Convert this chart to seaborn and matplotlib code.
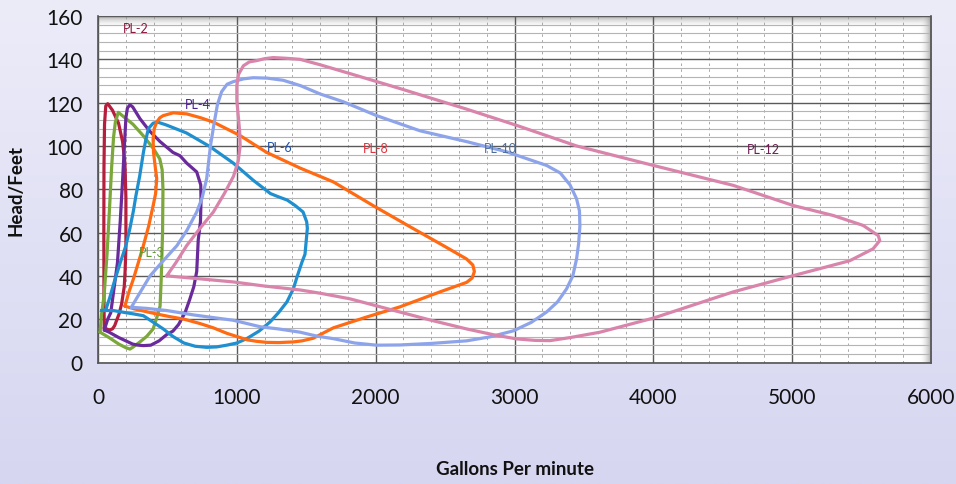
import numpy as np
import pandas as pd
import matplotlib
matplotlib.use("Agg")
import matplotlib.pyplot as plt
import seaborn as sns
from matplotlib.ticker import MultipleLocator
from matplotlib.colors import LinearSegmentedColormap

# Kennlinien (Gallonen pro Minute / Förderhöhe in Fuß)
pl2_gpm = [45, 43, 42, 43, 47, 56, 70, 104, 148, 177, 194, 201, 201, 195, 189, 170, 152, 120, 104, 80, 45]
pl2_ft = [16, 30, 60, 90, 110, 118.5, 119.5, 116.5, 110.5, 102, 92, 76, 53, 42, 35, 27, 22.5, 17, 15.5, 15, 16]

pl3_gpm = [15, 25, 44, 65, 82, 98, 112, 125, 146, 175, 252, 322, 397, 445, 462, 468, 465, 455, 447, 420, 397, 350, 302, 250, 230, 202, 150, 80, 15]
pl3_ft = [14, 22, 31, 50, 70, 90, 104, 111, 115.5, 114, 110, 105, 99, 94, 89, 80, 60, 38, 26, 20, 15.5, 12, 9.5, 7, 6.2, 6.8, 8.5, 11.5, 14]

pl4_gpm = [45, 70, 92, 115, 140, 160, 177, 190, 201, 212, 230, 250, 302, 370, 447, 540, 590, 640, 711, 740, 742, 738, 722, 711, 690, 660, 627, 580, 540, 495, 440, 380, 327, 290, 250, 150, 80, 45]
pl4_ft = [15, 20, 23, 34, 46, 65, 84, 100, 113, 117.5, 119, 118, 112.6, 107, 102, 97, 95.5, 92, 88, 82, 75, 65, 56.6, 42, 35, 29, 23, 17.5, 14.5, 12.9, 10, 8, 7.8, 8, 8.5, 11.5, 14, 15]

pl6_gpm = [25, 56, 85, 116, 160, 201, 230, 255, 273, 300, 327, 345, 363, 397, 430, 491, 637, 806, 976, 1121, 1242, 1300, 1363, 1420, 1477, 1503, 1508, 1491, 1470, 1436, 1407, 1361, 1300, 1239, 1160, 1071, 1000, 927, 855, 783, 700, 619, 540, 470, 400, 327, 250, 200, 110, 25]
pl6_ft = [24, 24.3, 30, 37, 46, 54, 62, 70, 77, 86, 97, 103, 108, 110.5, 111, 109.7, 106, 99.7, 92, 84, 78, 76.5, 75, 72.5, 69.5, 65, 62, 50, 46.5, 40, 34, 28, 23, 18.7, 14.5, 11, 9, 8, 7.2, 7, 7.5, 9, 12, 15.5, 18.5, 21.6, 22.5, 23, 24, 24]

pl8_gpm = [194, 220, 255, 290, 327, 365, 397, 415, 423, 411, 400, 397, 405, 423, 445, 470, 542, 639, 740, 831, 1023, 1215, 1455, 1695, 1983, 2247, 2487, 2655, 2700, 2711, 2695, 2655, 2463, 2175, 1935, 1695, 1550, 1470, 1407, 1300, 1215, 1140, 1073, 1000, 927, 831, 734, 620, 516, 430, 346, 260, 194]
pl8_ft = [26, 32, 38.6, 46, 54, 63, 72.4, 78, 85, 91, 97, 103, 108, 111, 113, 114, 115.3, 114.8, 113, 111, 104.8, 97, 89.8, 83.4, 72.4, 62.7, 54, 47.8, 45, 42, 39, 37, 32.6, 25.7, 21, 16, 11.2, 10, 9.5, 9.2, 9.3, 9.8, 10.5, 12, 13.5, 16, 18, 20, 21.2, 22.3, 23.5, 24.8, 26]

pl10_gpm = [240, 300, 375, 470, 569, 640, 711, 750, 783, 810, 835, 860, 890, 930, 975, 1050, 1119, 1220, 1335, 1460, 1600, 1767, 2007, 2319, 2655, 2943, 3231, 3330, 3400, 3447, 3468, 3471, 3462, 3447, 3420, 3375, 3310, 3231, 3120, 2991, 2820, 2655, 2400, 2175, 2007, 1850, 1695, 1575, 1455, 1300, 1169, 975, 800, 685, 495, 350, 240]
pl10_ft = [25.5, 32, 40, 47, 54, 61, 69.5, 76, 85, 100, 110, 119, 125, 128.5, 129.7, 131, 131.5, 131.3, 130.3, 127.8, 124, 120.4, 114, 107, 102, 97.3, 91, 87.5, 82, 75.6, 70, 63, 55, 47.8, 40, 34, 28, 23.3, 18.5, 14.6, 11.8, 10, 8.8, 8.1, 8, 9, 11, 12.2, 14, 15.5, 16.5, 19.5, 21, 22, 24, 25, 25.5]

pl12_gpm = [495, 560, 639, 735, 831, 910, 976, 1010, 1024, 1020, 1010, 1000, 1000, 1012, 1047, 1090, 1143, 1200, 1263, 1350, 1455, 1599, 1815, 2175, 2655, 3015, 3447, 4000, 4575, 5007, 5295, 5511, 5620, 5631, 5583, 5415, 5007, 4575, 4000, 3616, 3400, 3256, 3150, 3015, 2850, 2655, 2400, 2175, 1815, 1599, 1455, 1200, 975, 740, 495]
pl12_ft = [40, 46, 54, 62, 69.5, 78, 86, 93, 100, 107, 114, 121, 128, 133, 137, 138.8, 139.4, 140.3, 140.8, 140.5, 140, 137.5, 133.4, 126.5, 117, 109.5, 100, 91, 81.8, 72.5, 67.9, 63.3, 58.6, 56.3, 52.5, 47, 40.1, 32.6, 20.5, 14, 11.5, 10.1, 10.2, 10.9, 12.8, 15.5, 19.5, 23.3, 29.4, 32, 33.5, 35.3, 37.2, 38.6, 40]

names = ["PL-2", "PL-3", "PL-4", "PL-6", "PL-8", "PL-10", "PL-12"]
line_colors = ["#b51e3c", "#7ba73b", "#6a2a9c", "#1f8fcf", "#ff6a12", "#8ea4ea", "#d985ab"]
label_colors = ["#8c1840", "#5e9a2a", "#4a2090", "#1f4fa8", "#e8303c", "#4d6f9a", "#6e1f55"]
label_gpm = [270, 390, 720, 1310, 2000, 2900, 4790]
label_ft = [154.5, 51, 119.5, 99.5, 99, 99, 98.5]

# Tabelle für seaborn zusammenbauen
kurven = [(pl2_gpm, pl2_ft), (pl3_gpm, pl3_ft), (pl4_gpm, pl4_ft), (pl6_gpm, pl6_ft),
          (pl8_gpm, pl8_ft), (pl10_gpm, pl10_ft), (pl12_gpm, pl12_ft)]
teile = []
for name, (g, f) in zip(names, kurven):
    teile.append(pd.DataFrame({"gpm": g, "feet": f, "pumpe": name}))
df = pd.concat(teile, ignore_index=True)

sns.set_style("white")
plt.rcParams["font.family"] = ["Lato", "DejaVu Sans"]

fig = plt.figure(figsize=(9.56, 4.85), dpi=100)

# Hintergrund mit leichtem Farbverlauf (lavendel)
bg = fig.add_axes([0, 0, 1, 1], zorder=-10)
bg_cmap = LinearSegmentedColormap.from_list("bg", ["#d6d6f1", "#ececf9"])
bg.imshow(np.linspace(0, 1, 256).reshape(-1, 1), cmap=bg_cmap, aspect="auto",
          extent=(0, 1, 0, 1), origin="lower")
bg.axis("off")

ax = fig.add_axes([98 / 956, 1 - 363.5 / 485, (931 - 98) / 956, (363.5 - 17) / 485])
ax.set_facecolor("white")
ax.set_axisbelow(True)

# Schatten oben und rechts im Diagrammbereich
top_cmap = LinearSegmentedColormap.from_list("top", [(1, 1, 1, 0), (0.55, 0.55, 0.55, 0.85)])
ax.imshow(np.linspace(0, 1, 64).reshape(-1, 1), cmap=top_cmap, aspect="auto",
          extent=(0, 1, 0.965, 1.0), origin="lower", transform=ax.transAxes, zorder=0.2)
ax.imshow(np.linspace(0, 1, 64).reshape(1, -1), cmap=top_cmap, aspect="auto",
          extent=(0.985, 1.0, 0, 1), origin="lower", transform=ax.transAxes, zorder=0.2)

sns.lineplot(data=df, x="gpm", y="feet", hue="pumpe", palette=dict(zip(names, line_colors)),
             sort=False, estimator=None, linewidth=2.3, legend=False, ax=ax, zorder=3)
for line in ax.get_lines():
    line.set_solid_joinstyle("round")
    line.set_solid_capstyle("round")

for name, x, y, c in zip(names, label_gpm, label_ft, label_colors):
    ax.text(x, y, name, color=c, fontsize=9, ha="center", va="center", zorder=4)

ax.set_xlim(0, 6000)
ax.set_ylim(0, 160)
ax.xaxis.set_major_locator(MultipleLocator(1000))
ax.xaxis.set_minor_locator(MultipleLocator(200))
ax.yaxis.set_major_locator(MultipleLocator(20))
ax.yaxis.set_minor_locator(MultipleLocator(4))

ax.grid(which="major", color="#5a5a5a", linewidth=1.0)
ax.grid(which="minor", axis="y", color="#b4b4b4", linewidth=0.8)
ax.grid(which="minor", axis="x", color="#9a9a9a", linewidth=0.6, linestyle=(0, (3, 4)))

for s in ["left", "bottom", "right"]:
    ax.spines[s].set_color("#555555")
    ax.spines[s].set_linewidth(1.2)
ax.spines["top"].set_visible(False)

ax.tick_params(which="major", direction="out", length=7, width=1, color="#555555",
               labelsize=15, labelcolor="#111111")
ax.tick_params(which="minor", length=0)
ax.tick_params(axis="x", pad=11)
ax.tick_params(axis="y", pad=4)

ax.set_xlabel("Gallons Per minute", fontsize=13.5, fontweight="bold", labelpad=38, color="#111111")
ax.set_ylabel("Head/Feet", fontsize=13.5, fontweight="bold", labelpad=16, color="#111111")

plt.savefig("out.png", dpi=100)
